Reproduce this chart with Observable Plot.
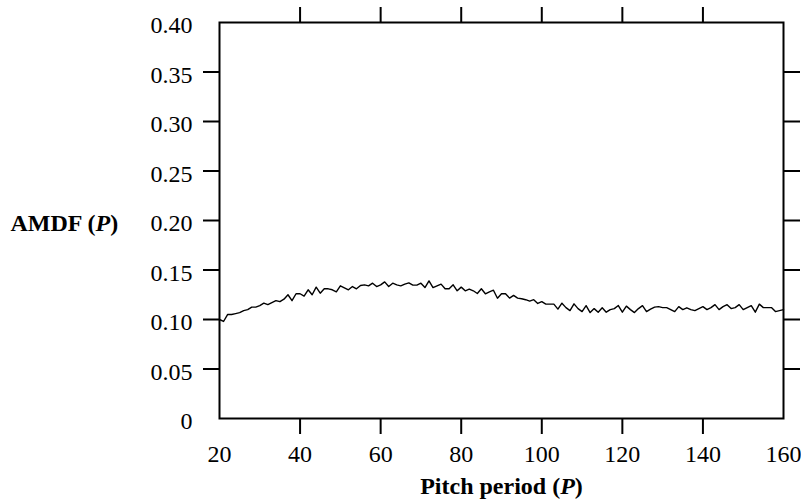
<!DOCTYPE html>
<html><head><meta charset="utf-8">
<script src="https://cdn.jsdelivr.net/npm/d3@7"></script>
<script src="https://cdn.jsdelivr.net/npm/@observablehq/plot@0.6"></script>
<style>body{margin:0;background:#fff}</style>
</head><body><div id="chart"></div>
<script>
// Pitch period P (samples) from 20 to 160
const pitch = d3.range(20, 161);
// AMDF values, one per pitch period
const amdf = [
  0.100, 0.098, 0.105, 0.105, 0.106, 0.107, 0.109, 0.110, 0.1125, 0.1125,
  0.114, 0.1165, 0.115, 0.117, 0.119, 0.118, 0.1205, 0.125, 0.119, 0.126,
  0.126, 0.1236, 0.130, 0.125, 0.1327, 0.1266, 0.131, 0.131, 0.130, 0.128,
  0.134, 0.132, 0.130, 0.1333, 0.131, 0.1343, 0.135, 0.134, 0.1367, 0.1333,
  0.135, 0.138, 0.1333, 0.1367, 0.135, 0.134, 0.1357, 0.137, 0.1347, 0.1347,
  0.1367, 0.1323, 0.139, 0.1323, 0.134, 0.1357, 0.131, 0.131, 0.135, 0.129,
  0.1327, 0.129, 0.1307, 0.129, 0.1263, 0.131, 0.126, 0.128, 0.1296, 0.1215,
  0.126, 0.126, 0.1216, 0.1243, 0.1216, 0.121, 0.120, 0.1186, 0.120, 0.1162,
  0.118, 0.1155, 0.1155, 0.1155, 0.1105, 0.1165, 0.112, 0.109, 0.1158, 0.111,
  0.108, 0.114, 0.107, 0.111, 0.1074, 0.1118, 0.1074, 0.110, 0.111, 0.1141,
  0.1074, 0.1135, 0.110, 0.107, 0.111, 0.114, 0.108, 0.1105, 0.1125, 0.113,
  0.112, 0.112, 0.110, 0.108, 0.113, 0.110, 0.1118, 0.110, 0.109, 0.111,
  0.113, 0.110, 0.112, 0.115, 0.110, 0.113, 0.115, 0.111, 0.112, 0.115,
  0.110, 0.112, 0.114, 0.1074, 0.1155, 0.112, 0.112, 0.112, 0.108, 0.109,
  0.110
];
const yTicks = [0, 0.05, 0.10, 0.15, 0.20, 0.25, 0.30, 0.35, 0.40];
const yTickLabels = ["0", "0.05", "0.10", "0.15", "0.20", "0.25", "0.30", "0.35", "0.40"];
const yInnerTicks = [0.05, 0.10, 0.15, 0.20, 0.25, 0.30, 0.35];
const xTicks = [20, 40, 60, 80, 100, 120, 140, 160];
const xInnerTicks = [40, 60, 80, 100, 120, 140];
const xLabel = "Pitch period (P)";
const yLabel = "AMDF (P)";

const data = pitch.map((p, i) => ({p, v: amdf[i]}));
const blank = () => "";

const chart = Plot.plot({
  width: 801,
  height: 500,
  marginLeft: 219,
  marginRight: 18,
  marginTop: 22,
  marginBottom: 82,
  style: {fontFamily: "'Liberation Serif', 'Times New Roman', serif", fontSize: "24px", color: "#000", background: "#fff"},
  x: {domain: [20, 160]},
  y: {domain: [0, 0.4]},
  marks: [
    Plot.axisY(yInnerTicks, {anchor: "left", tickSize: 16, strokeWidth: 2, tickFormat: blank, label: null}),
    Plot.axisY(yInnerTicks, {anchor: "right", tickSize: 16, strokeWidth: 2, tickFormat: blank, label: null}),
    Plot.axisX(xInnerTicks, {anchor: "top", tickSize: 16, strokeWidth: 2, tickFormat: blank, label: null}),
    Plot.axisX(xInnerTicks, {anchor: "bottom", tickSize: 16, strokeWidth: 2, tickFormat: blank, label: null}),
    Plot.axisY(yTicks, {anchor: "left", tickSize: 0, tickPadding: 27, dy: 3,
      tickFormat: d => yTickLabels[yTicks.indexOf(d)], label: null}),
    Plot.axisX(xTicks, {anchor: "bottom", tickSize: 0, tickPadding: 26, label: null}),
    Plot.frame({stroke: "#000", strokeWidth: 2}),
    Plot.line(data, {x: "p", y: "v", stroke: "#000", strokeWidth: 1.4}),
    Plot.text([xLabel], {frameAnchor: "bottom", lineAnchor: "bottom", dy: 75, fontWeight: "bold", fill: "#000"}),
    Plot.text([yLabel], {frameAnchor: "left", textAnchor: "start", dx: -209, dy: 3, fontWeight: "bold", fill: "#000"})
  ]
});

function italicizeP(root, label) {
  const cut = label.lastIndexOf("(P)");
  const pre = label.slice(0, cut + 1);
  root.querySelectorAll("text, tspan").forEach(el => {
    if (el.childNodes.length === 1 && el.firstChild.nodeType === 3 && el.textContent === label) {
      el.textContent = "";
      const ns = "http://www.w3.org/2000/svg";
      const a = document.createElementNS(ns, "tspan"); a.textContent = pre;
      const b = document.createElementNS(ns, "tspan"); b.textContent = "P"; b.setAttribute("font-style", "italic");
      const c = document.createElementNS(ns, "tspan"); c.textContent = ")";
      el.append(a, b, c);
    }
  });
}
italicizeP(chart, xLabel);
italicizeP(chart, yLabel);

document.getElementById("chart").append(chart);
</script>
</body></html>
